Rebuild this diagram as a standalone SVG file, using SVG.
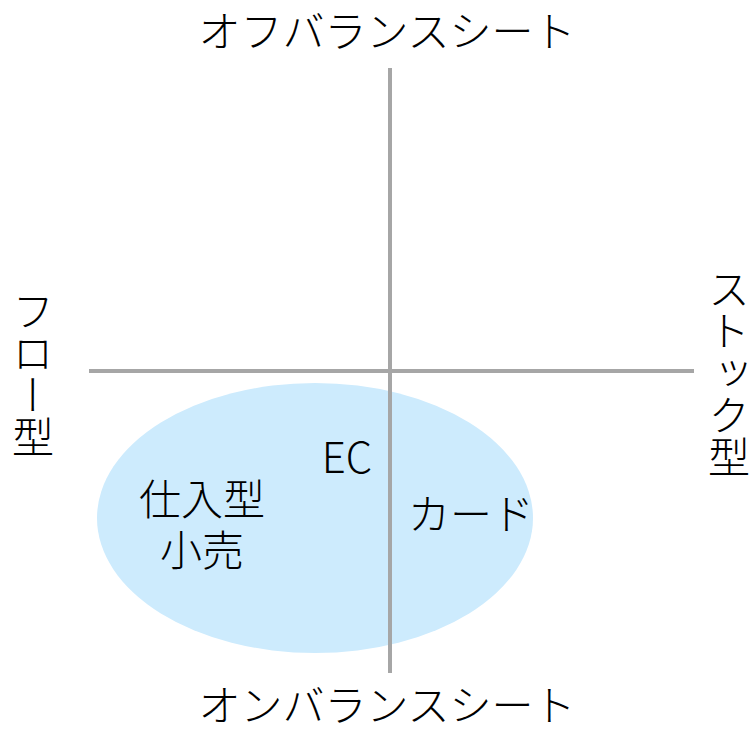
<svg xmlns="http://www.w3.org/2000/svg" width="752" height="729" viewBox="0 0 752 729">
<style>
text{font-family:"Noto Sans CJK JP","Noto Sans",sans-serif;font-size:42px;font-weight:300;fill:#000}
.ax{stroke:#a6a6a6;stroke-width:4;fill:none}
.v{writing-mode:vertical-rl;text-orientation:upright}
</style>
<rect width="752" height="729" fill="#fff"/>
<g id="region"><ellipse cx="315" cy="518" rx="218" ry="135" fill="#cdebfd"/></g>
<g id="connectors">
<line class="ax" x1="390" y1="68" x2="390" y2="673"/>
<line class="ax" x1="89" y1="371" x2="694" y2="371"/>
</g>
<g id="top"><text x="387" y="47" text-anchor="middle">オフバランスシート</text></g>
<g id="bottom"><text x="387" y="721" text-anchor="middle">オンバランスシート</text></g>
<g id="left"><text class="v" x="33" y="290">フロー型</text></g>
<g id="right"><text class="v" x="729" y="268">ストック型</text></g>
<g id="ec"><text x="347" y="473" text-anchor="middle">EC</text></g>
<g id="card"><text x="471" y="530" text-anchor="middle">カード</text></g>
<g id="retail"><text x="202" y="515" text-anchor="middle">仕入型</text><text x="202" y="566" text-anchor="middle">小売</text></g>
</svg>
